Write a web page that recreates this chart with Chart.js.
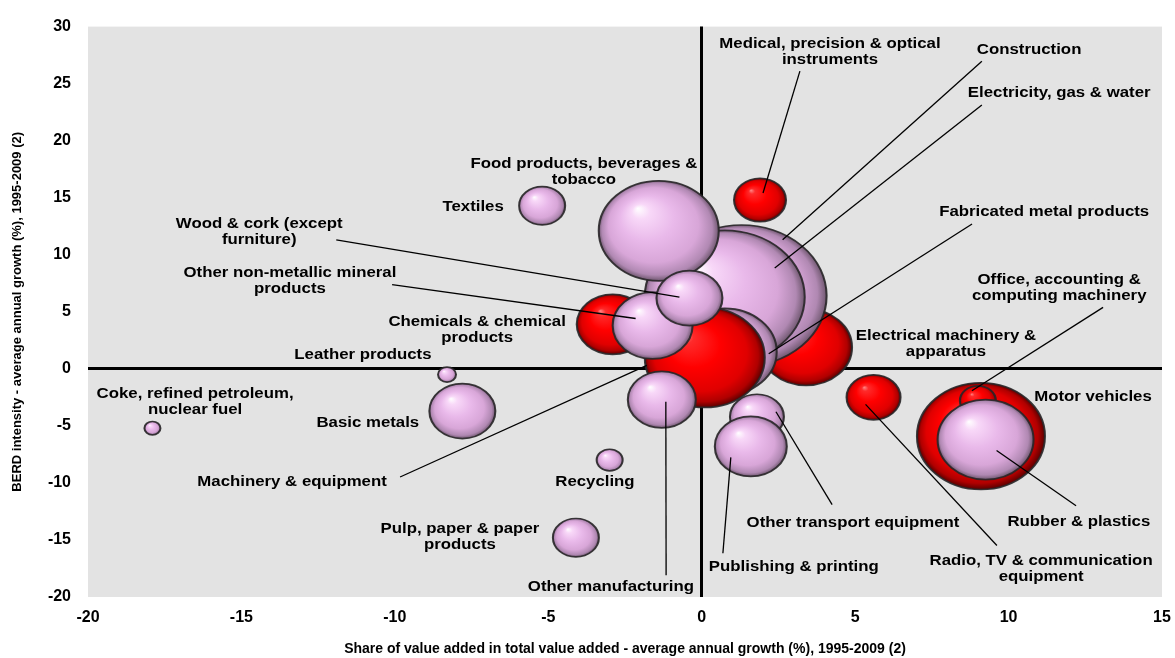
<!DOCTYPE html>
<html>
<head>
<meta charset="utf-8">
<script src="https://cdn.jsdelivr.net/npm/chart.js@4.4.1/dist/chart.umd.min.js"></script>
<style>
  html, body { margin: 0; padding: 0; background: #fff; }
  #wrap { width: 1175px; height: 658px; }
</style>
</head>
<body>
<div id="wrap"><canvas id="chart"></canvas></div>
<script>
// sectors in drawing order (back to front)
const sectors = [
  'Motor vehicles', 'Office, accounting & computing machinery', 'Rubber & plastics',
  'Electrical machinery & apparatus', 'Chemicals & chemical products', 'Construction',
  'Electricity, gas & water', 'Fabricated metal products', 'Machinery & equipment',
  'Food products, beverages & tobacco', 'Other non-metallic mineral products', 'Wood & cork (except furniture)',
  'Other manufacturing', 'Other transport equipment', 'Publishing & printing',
  'Medical, precision & optical instruments', 'Radio, TV & communication equipment', 'Leather products',
  'Basic metals', 'Recycling', 'Pulp, paper & paper products',
  'Textiles', 'Coke, refined petroleum, nuclear fuel'
];
const valueAddedGrowth = [9.1, 9.0, 9.25, 3.4, -2.9, 1.3, 0.75, 0.75, 0.1, -1.4, -1.6, -0.4, -1.3, 1.8, 1.6, 1.9, 5.6, -8.3, -7.8, -3.0, -4.1, -5.2, -17.9];
const berdGrowth = [-5.9, -2.8, -6.2, 1.9, 3.9, 6.4, 6.3, 1.5, 1.0, 12.1, 3.8, 6.2, -2.7, -4.2, -6.8, 14.8, -2.5, -0.5, -3.7, -8.0, -14.8, 14.3, -5.2];
const bubbleSize = [64, 18, 48, 46, 36, 85, 80, 52, 60, 60, 40, 33, 34, 27, 36, 26, 27, 9, 33, 13, 23, 23, 8];
const highTech = [1, 1, 0, 1, 1, 0, 0, 0, 1, 0, 0, 0, 0, 0, 0, 1, 1, 0, 0, 0, 0, 0, 0];

const xTitle = 'Share of value added in total value added - average annual growth (%), 1995-2009 (2)';
const yTitle = 'BERD intensity - average annual growth (%), 1995-2009 (2)';

// label placement (data units) and leader ends (px offset from bubble centre)
const callouts = [
  { sector: 'Medical, precision & optical instruments', lines: ['Medical, precision & optical', 'instruments'], at: [4.18, 28.5], from: [3.2, 26.1], to: [3, -7] },
  { sector: 'Construction', lines: ['Construction'], at: [10.67, 28.0], from: [9.13, 26.96], to: [41, -56] },
  { sector: 'Electricity, gas & water', lines: ['Electricity, gas & water'], at: [11.65, 24.17], from: [9.13, 23.13], to: [50, -29] },
  { sector: 'Food products, beverages & tobacco', lines: ['Food products, beverages &', 'tobacco'], at: [-3.84, 18.0] },
  { sector: 'Textiles', lines: ['Textiles'], at: [-7.45, 14.17] },
  { sector: 'Wood & cork (except furniture)', lines: ['Wood & cork (except', 'furniture)'], at: [-14.42, 12.7], from: [-11.91, 11.3], to: [-10, -1] },
  { sector: 'Other non-metallic mineral products', lines: ['Other non-metallic mineral', 'products'], at: [-13.42, 8.43], from: [-10.09, 7.39], to: [-17, -7] },
  { sector: 'Chemicals & chemical products', lines: ['Chemicals & chemical', 'products'], at: [-7.32, 4.09] },
  { sector: 'Leather products', lines: ['Leather products'], at: [-11.04, 1.22] },
  { sector: 'Coke, refined petroleum, nuclear fuel', lines: ['Coke, refined petroleum,', 'nuclear fuel'], at: [-16.51, -2.17] },
  { sector: 'Basic metals', lines: ['Basic metals'], at: [-10.88, -4.7] },
  { sector: 'Machinery & equipment', lines: ['Machinery & equipment'], at: [-13.35, -9.91], from: [-9.83, -9.48], to: [-58, 8] },
  { sector: 'Recycling', lines: ['Recycling'], at: [-3.48, -9.91] },
  { sector: 'Pulp, paper & paper products', lines: ['Pulp, paper & paper', 'products'], at: [-7.88, -14.0] },
  { sector: 'Other manufacturing', lines: ['Other manufacturing'], at: [-2.96, -19.13], from: [-1.16, -18.09], to: [4, 2] },
  { sector: 'Publishing & printing', lines: ['Publishing & printing'], at: [3.0, -17.39], from: [0.69, -16.17], to: [-20, 11] },
  { sector: 'Other transport equipment', lines: ['Other transport equipment'], at: [4.93, -13.48], from: [4.25, -11.91], to: [19, -5] },
  { sector: 'Radio, TV & communication equipment', lines: ['Radio, TV & communication', 'equipment'], at: [11.06, -16.87], from: [9.62, -15.48], to: [-8, 7] },
  { sector: 'Rubber & plastics', lines: ['Rubber & plastics'], at: [12.29, -13.39], from: [12.2, -12.0], to: [11, 11] },
  { sector: 'Motor vehicles', lines: ['Motor vehicles'], at: [12.75, -2.43] },
  { sector: 'Office, accounting & computing machinery', lines: ['Office, accounting &', 'computing machinery'], at: [11.65, 7.83], from: [13.08, 5.39], to: [-6, -10] },
  { sector: 'Fabricated metal products', lines: ['Fabricated metal products'], at: [11.16, 13.74], from: [8.81, 12.7], to: [44, 2] },
  { sector: 'Electrical machinery & apparatus', lines: ['Electrical machinery &', 'apparatus'], at: [7.96, 2.87] }
];

const ASPECT = 1.2;       // bubbles in the original are slightly wide
const TEXT_STRETCH = 1.12;
const redStops = [[0, '#ff8a8a'], [0.12, '#ff2a2a'], [0.45, '#ff0000'], [0.78, '#e00000'], [0.92, '#b00000'], [1, '#5a0000']];
const lilacStops = [[0, '#ffffff'], [0.15, '#f8d8f8'], [0.45, '#e9b9ea'], [0.75, '#d8a6d8'], [0.92, '#b088b2'], [1, '#705870']];

Chart.defaults.font.family = '"Liberation Sans", Arial, sans-serif';
Chart.defaults.color = '#000';

const plotBackground = {
  id: 'plotBackground',
  beforeDraw(chart) {
    const { ctx, chartArea: a } = chart;
    ctx.save();
    ctx.fillStyle = '#e3e3e3';
    ctx.fillRect(a.left, a.top, a.right - a.left, a.bottom - a.top);
    ctx.restore();
  }
};

const sphereBubbles = {
  id: 'sphereBubbles',
  beforeDatasetDraw(chart, args) {
    const ctx = chart.ctx;
    args.meta.data.forEach((el, i) => {
      const ry = el.options.radius / ASPECT;
      const g = ctx.createRadialGradient(-0.35 * ry, -0.45 * ry, 0, 0, 0, ry);
      (highTech[i] ? redStops : lilacStops).forEach(([o, c]) => g.addColorStop(o, c));
      ctx.save();
      ctx.translate(el.x, el.y);
      ctx.scale(ASPECT, 1);
      ctx.beginPath();
      ctx.arc(0, 0, ry, 0, Math.PI * 2);
      ctx.fillStyle = g;
      ctx.fill();
      ctx.lineWidth = 1.7;
      ctx.strokeStyle = 'rgba(40,38,40,0.9)';
      ctx.stroke();
      ctx.restore();
    });
    return false;
  }
};

const calloutLabels = {
  id: 'calloutLabels',
  afterDatasetsDraw(chart) {
    const { ctx, scales: { x, y } } = chart;
    const pts = chart.getDatasetMeta(0).data;
    ctx.save();
    ctx.strokeStyle = '#000';
    ctx.lineWidth = 1.3;
    callouts.forEach(c => {
      if (!c.from) return;
      const el = pts[sectors.indexOf(c.sector)];
      ctx.beginPath();
      ctx.moveTo(x.getPixelForValue(c.from[0]), y.getPixelForValue(c.from[1]));
      ctx.lineTo(el.x + c.to[0], el.y + c.to[1]);
      ctx.stroke();
    });
    ctx.fillStyle = '#000';
    ctx.font = 'bold 15px "Liberation Sans", Arial, sans-serif';
    ctx.textAlign = 'center';
    ctx.textBaseline = 'middle';
    callouts.forEach(c => {
      const px = x.getPixelForValue(c.at[0]);
      const py = y.getPixelForValue(c.at[1]);
      c.lines.forEach((line, k) => {
        ctx.save();
        ctx.translate(px, py + k * 16);
        ctx.scale(TEXT_STRETCH, 1);
        ctx.fillText(line, 0, 0);
        ctx.restore();
      });
    });
    ctx.restore();
  }
};

const zeroLine = c => (c.tick && c.tick.value === 0 ? '#000' : 'rgba(0,0,0,0)');

new Chart(document.getElementById('chart'), {
  type: 'bubble',
  data: {
    datasets: [{
      label: 'Sectors',
      data: sectors.map((s, i) => ({ x: valueAddedGrowth[i], y: berdGrowth[i], r: bubbleSize[i] }))
    }]
  },
  options: {
    responsive: true,
    maintainAspectRatio: false,
    animation: false,
    layout: { autoPadding: false, padding: { top: 22, right: 13, left: 0, bottom: 0 } },
    plugins: { legend: { display: false }, tooltip: { enabled: false } },
    scales: {
      x: {
        type: 'linear', min: -20, max: 15,
        ticks: { stepSize: 5, padding: 11, font: { size: 16, weight: 'bold' } },
        grid: { drawTicks: false, color: zeroLine, lineWidth: 3 },
        border: { display: false },
        title: { display: true, text: xTitle, font: { size: 14, weight: 'bold' }, padding: { top: 0, bottom: 0 } },
        afterFit: s => { s.height = 61; s.paddingLeft = 0; s.paddingRight = 0; }
      },
      y: {
        type: 'linear', min: -20, max: 30,
        ticks: { stepSize: 5, padding: 17, font: { size: 16, weight: 'bold' } },
        grid: { drawTicks: false, color: zeroLine, lineWidth: 3 },
        border: { display: false },
        title: { display: true, text: yTitle, font: { size: 13, weight: 'bold' }, padding: { top: 10, bottom: 0 } },
        afterFit: s => { s.width = 88; }
      }
    }
  },
  plugins: [plotBackground, sphereBubbles, calloutLabels]
});
</script>
</body>
</html>
